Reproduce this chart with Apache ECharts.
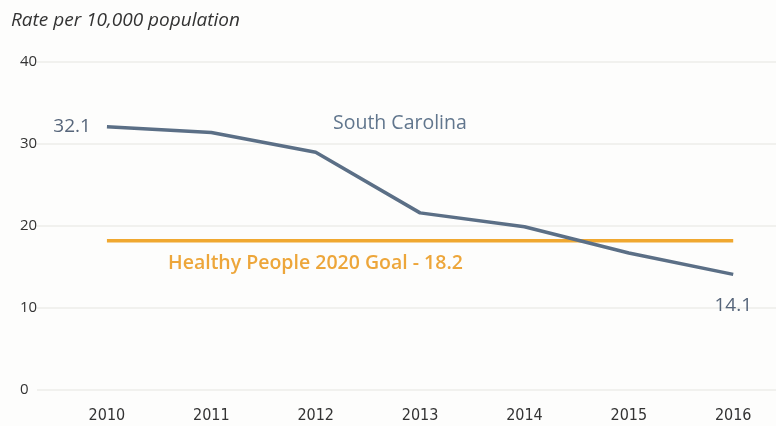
<!DOCTYPE html>
<html>
<head>
<meta charset="utf-8">
<script src="https://cdn.jsdelivr.net/npm/echarts@6/dist/echarts.min.js"></script>
<style>
  html, body { margin: 0; padding: 0; background: #fdfdfc; }
  #chart { width: 776px; height: 426px; }
</style>
</head>
<body>
<div id="chart"></div>
<script>
// Hospitalization rate per 10,000 population, South Carolina, 2010-2016
const years = [2010, 2011, 2012, 2013, 2014, 2015, 2016];
const scRates = [32.1, 31.4, 29.0, 21.6, 19.9, 16.7, 14.1];
const goalValue = 18.2;
const yTicks = [0, 10, 20, 30, 40];

const FONT = '"Open Sans", "Noto Sans", sans-serif';
const LINE_COLOR = '#5b6f86';
const GOAL_COLOR = '#f0a830';

const chart = echarts.init(document.getElementById('chart'));

// Only the first and last points carry a value label
const scData = years.map((y, i) => {
  const item = { value: [y, scRates[i]] };
  if (i === 0) {
    item.label = { show: true, position: 'left', distance: 16 };
  } else if (i === years.length - 1) {
    item.label = { show: true, position: 'bottom', distance: 22 };
  }
  return item;
});

chart.setOption({
  backgroundColor: '#fdfdfc',
  animation: false,
  grid: { left: 37, right: 0, top: 62, bottom: 36 },
  title: {
    text: 'Rate per 10,000 population',
    left: 6,
    top: 6,
    textStyle: { fontFamily: FONT, fontStyle: 'italic', fontWeight: 'normal', fontSize: 19, color: '#333' }
  },
  xAxis: {
    type: 'value',
    min: 2009.33,
    max: 2016.41,
    splitLine: { show: false },
    axisLine: { show: false },
    axisTick: { show: false },
    axisLabel: {
      customValues: years,
      formatter: v => String(v),
      margin: 18,
      color: '#333',
      fontSize: 16,
      fontFamily: '"DejaVu Sans Condensed", "DejaVu Sans", sans-serif'
    }
  },
  yAxis: {
    type: 'value',
    min: yTicks[0],
    max: yTicks[yTicks.length - 1],
    interval: 10,
    axisLine: { show: false },
    axisTick: { show: false },
    splitLine: { lineStyle: { color: '#ececea', width: 1.5 } },
    axisLabel: {
      align: 'left',
      margin: 17,
      color: '#333',
      fontSize: 15,
      fontFamily: FONT
    }
  },
  series: [
    {
      name: 'Healthy People 2020 Goal',
      type: 'line',
      data: [[years[0], goalValue], [years[years.length - 1], goalValue]],
      symbol: 'none',
      lineStyle: { color: GOAL_COLOR, width: 3.5 },
      z: 2
    },
    {
      name: 'South Carolina',
      type: 'line',
      data: scData,
      symbol: 'circle',
      symbolSize: 0,
      showSymbol: true,
      itemStyle: { color: LINE_COLOR },
      lineStyle: { color: LINE_COLOR, width: 3.5 },
      label: {
        show: false,
        formatter: p => p.value[1].toFixed(1),
        color: '#56657a',
        fontSize: 19,
        fontFamily: FONT
      },
      z: 3
    }
  ],
  graphic: [
    {
      type: 'text',
      left: 333,
      top: 113,
      style: { text: 'South Carolina', fill: '#61768d', fontSize: 19.5, fontFamily: FONT }
    },
    {
      type: 'text',
      left: 168,
      top: 253,
      style: { text: 'Healthy People 2020 Goal - 18.2', fill: '#eda63a', fontSize: 19.5, fontFamily: FONT, fontWeight: 600 }
    }
  ]
});
</script>
</body>
</html>
